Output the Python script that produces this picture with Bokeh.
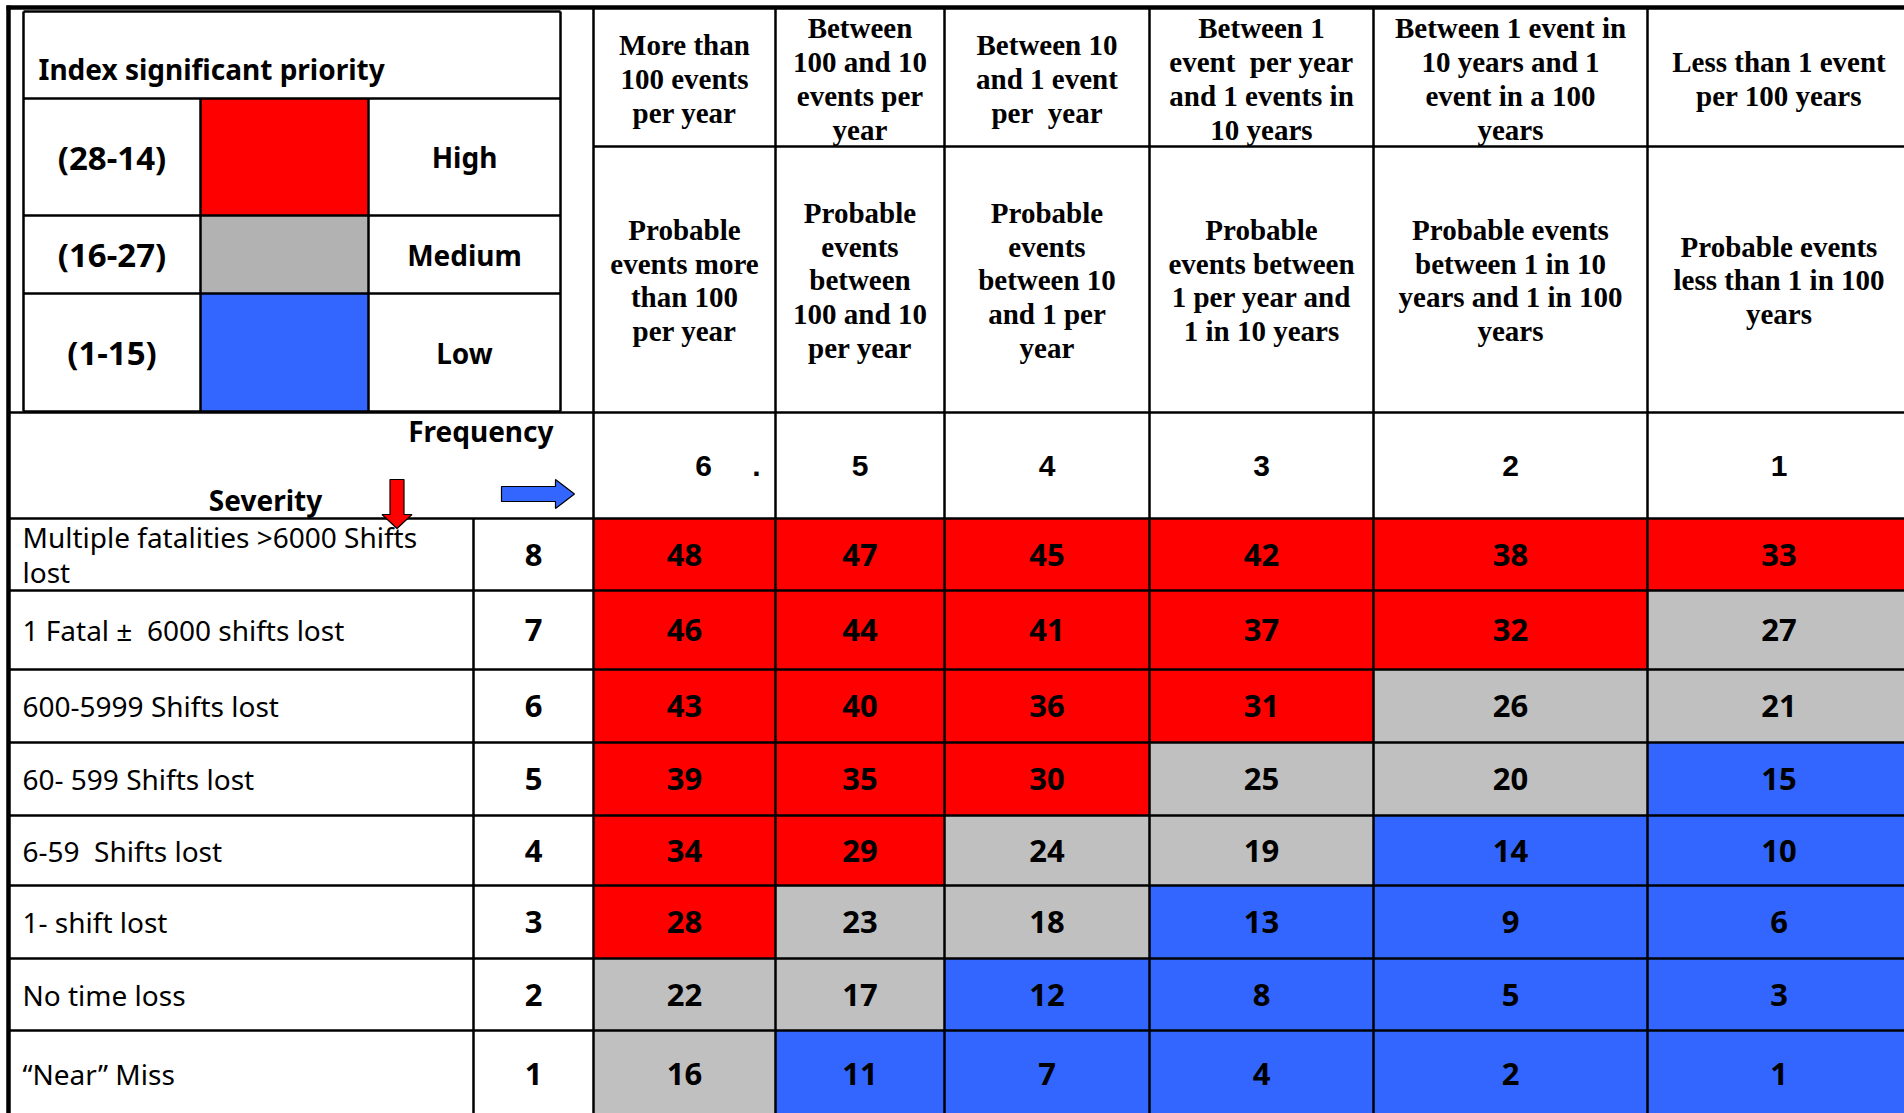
from bokeh.plotting import figure
from bokeh.models import Range1d, ColumnDataSource
from bokeh.core.properties import value
from bokeh.embed import file_html
from bokeh.resources import INLINE

# ---------------- DATA ----------------
freq_levels = ["6", "5", "4", "3", "2", "1"]
freq_headers = [
    "More than\n100 events\nper year",
    "Between\n100 and 10\nevents per\nyear",
    "Between 10\nand 1 event\nper\u00a0 year",
    "Between 1\nevent\u00a0 per year\nand 1 events in\n10 years",
    "Between 1 event in\n10 years and 1\nevent in a 100\nyears",
    "Less than 1 event\nper 100 years",
]
freq_desc = [
    "Probable\nevents more\nthan 100\nper year",
    "Probable\nevents\nbetween\n100 and 10\nper year",
    "Probable\nevents\nbetween 10\nand 1 per\nyear",
    "Probable\nevents between\n1 per year and\n1 in 10 years",
    "Probable events\nbetween 1 in 10\nyears and 1 in 100\nyears",
    "Probable events\nless than 1 in 100\nyears",
]
severity_levels = ["8", "7", "6", "5", "4", "3", "2", "1"]
severity_labels = [
    "Multiple fatalities >6000 Shifts\nlost",
    "1 Fatal \u00b1\u00a0 6000 shifts lost",
    "600-5999 Shifts lost",
    "60- 599 Shifts lost",
    "6-59\u00a0 Shifts lost",
    "1- shift lost",
    "No time loss",
    "\u201cNear\u201d Miss",
]
risk_sev8 = [48, 47, 45, 42, 38, 33]
risk_sev7 = [46, 44, 41, 37, 32, 27]
risk_sev6 = [43, 40, 36, 31, 26, 21]
risk_sev5 = [39, 35, 30, 25, 20, 15]
risk_sev4 = [34, 29, 24, 19, 14, 10]
risk_sev3 = [28, 23, 18, 13, 9, 6]
risk_sev2 = [22, 17, 12, 8, 5, 3]
risk_sev1 = [16, 11, 7, 4, 2, 1]
priority_ranges = ["(28-14)", "(16-27)", "(1-15)"]
priority_names = ["High", "Medium", "Low"]
legend_title = "Index significant priority"

# ---------------- LAYOUT / STYLE ----------------
W, H = 1904, 1113
COL_EDGES = [593, 775, 944, 1149, 1373, 1647, 1910]
ROW_EDGES = [518, 590, 669, 742, 815, 885, 958, 1030, 1116]
HEAD_EDGES = [7, 146, 412, 518]
LEFT = 8
SEV_NUM_X = 473
LEG_X = [23, 200, 368, 560]
LEG_Y = [11, 98, 215, 293, 411]
RED, GREY, BLUE = "#FF0000", "#C0C0C0", "#3366FF"
LEG_COLORS = ["#FF0000", "#B2B2B2", "#3366FF"]
SANS = value("Noto Sans")
SERIF = value("Liberation Serif")
ARIAL = value("Liberation Sans")


def risk_color(v):
    if v >= 28:
        return RED
    if v >= 16:
        return GREY
    return BLUE


p = figure(width=W, height=H, output_backend="svg", toolbar_location=None,
           x_range=Range1d(0, W), y_range=Range1d(H, 0),
           x_axis_location=None, y_axis_location=None, min_border=0)
p.grid.visible = False
p.outline_line_color = None
p.background_fill_color = "white"
p.border_fill_color = "white"

# ---------------- risk cells ----------------
rows = [risk_sev8, risk_sev7, risk_sev6, risk_sev5, risk_sev4, risk_sev3, risk_sev2, risk_sev1]
cl, cr, ct, cb, cc, cx, cy, ctxt = [], [], [], [], [], [], [], []
for r, row in enumerate(rows):
    for c, v in enumerate(row):
        cl.append(COL_EDGES[c]); cr.append(COL_EDGES[c + 1])
        ct.append(ROW_EDGES[r]); cb.append(ROW_EDGES[r + 1])
        cc.append(risk_color(v))
        cx.append((COL_EDGES[c] + COL_EDGES[c + 1]) / 2)
        cy.append((ROW_EDGES[r] + ROW_EDGES[r + 1]) / 2)
        ctxt.append(str(v))
cells = ColumnDataSource(dict(left=cl, right=cr, top=ct, bottom=cb, color=cc, x=cx, y=cy, text=ctxt))
p.quad(left="left", right="right", top="top", bottom="bottom", fill_color="color",
       line_color=None, source=cells)
p.text(x="x", y="y", text="text", source=cells, text_font=SANS, text_font_style="bold",
       text_font_size="31px", text_align="center", text_baseline="middle", text_color="black")

# ---------------- legend swatches ----------------
lg = ColumnDataSource(dict(
    left=[LEG_X[1]] * 3, right=[LEG_X[2]] * 3,
    top=LEG_Y[1:4], bottom=LEG_Y[2:5], color=LEG_COLORS,
    yc=[(LEG_Y[i] + LEG_Y[i + 1]) / 2 for i in range(1, 4)],
    xr=[(LEG_X[0] + LEG_X[1]) / 2] * 3, xn=[(LEG_X[2] + LEG_X[3]) / 2] * 3,
    rng=priority_ranges, name=priority_names))
p.quad(left="left", right="right", top="top", bottom="bottom", fill_color="color",
       line_color=None, source=lg)
p.text(x="xr", y="yc", text="rng", source=lg, text_font=SANS, text_font_style="bold",
       text_font_size="33px", text_align="center", text_baseline="middle")
p.text(x="xn", y="yc", text="name", source=lg, text_font=SANS, text_font_style="bold",
       text_font_size="28px", text_align="center", text_baseline="middle")
p.text(x=[LEG_X[0] + 15], y=[(LEG_Y[0] + LEG_Y[1]) / 2 + 14], text=[legend_title],
       text_font=SANS, text_font_style="bold", text_font_size="28px",
       text_align="left", text_baseline="middle")

# ---------------- grid lines ----------------
x0, y0, x1, y1 = [], [], [], []
for ye in ROW_EDGES[:-1] + [HEAD_EDGES[2]]:
    x0.append(LEFT); x1.append(W + 20); y0.append(ye); y1.append(ye)
x0.append(COL_EDGES[0]); x1.append(W + 20); y0.append(HEAD_EDGES[1]); y1.append(HEAD_EDGES[1])
for xe in COL_EDGES:
    x0.append(xe); x1.append(xe); y0.append(HEAD_EDGES[0]); y1.append(H + 20)
x0.append(SEV_NUM_X); x1.append(SEV_NUM_X); y0.append(ROW_EDGES[0]); y1.append(H + 20)
# legend box
for ye in LEG_Y:
    x0.append(LEG_X[0]); x1.append(LEG_X[3]); y0.append(ye); y1.append(ye)
for xe in (LEG_X[0], LEG_X[3]):
    x0.append(xe); x1.append(xe); y0.append(LEG_Y[0]); y1.append(LEG_Y[-1])
for xe in (LEG_X[1], LEG_X[2]):
    x0.append(xe); x1.append(xe); y0.append(LEG_Y[1]); y1.append(LEG_Y[-1])
p.segment(x0=x0, y0=y0, x1=x1, y1=y1, line_color="black", line_width=2.5)
# outer border
p.segment(x0=[LEFT - 2, LEFT], y0=[HEAD_EDGES[0], HEAD_EDGES[0] - 2],
          x1=[W + 20, LEFT], y1=[HEAD_EDGES[0], H + 20], line_color="black", line_width=4.5)

# ---------------- headers ----------------
hx = [(COL_EDGES[i] + COL_EDGES[i + 1]) / 2 for i in range(6)]
p.text(x=hx, y=[(HEAD_EDGES[0] + HEAD_EDGES[1]) / 2 + 2] * 6, text=freq_headers,
       text_font=SERIF, text_font_style="bold", text_font_size="29px",
       text_align="center", text_baseline="middle", text_line_height=1.06)
p.text(x=hx, y=[(HEAD_EDGES[1] + HEAD_EDGES[2]) / 2 + 1] * 6, text=freq_desc,
       text_font=SERIF, text_font_style="bold", text_font_size="29px",
       text_align="center", text_baseline="middle", text_line_height=1.06)
fx_off = [19, 0, 0, 0, 0, 0]
p.text(x=hx, y=[(HEAD_EDGES[2] + HEAD_EDGES[3]) / 2] * 6, text=freq_levels, x_offset=fx_off,
       text_font=ARIAL, text_font_style="bold", text_font_size="30px",
       text_align="center", text_baseline="middle")
p.text(x=[COL_EDGES[1] - 19], y=[(HEAD_EDGES[2] + HEAD_EDGES[3]) / 2], text=["."],
       text_font=ARIAL, text_font_style="bold", text_font_size="30px",
       text_align="center", text_baseline="middle")

# ---------------- severity column ----------------
ry = [(ROW_EDGES[i] + ROW_EDGES[i + 1]) / 2 for i in range(8)]
p.text(x=[LEFT + 14] * 8, y=ry, text=severity_labels, text_font=SANS,
       text_font_size="28px", text_align="left", text_baseline="middle",
       text_line_height=0.92)
p.text(x=[(SEV_NUM_X + COL_EDGES[0]) / 2] * 8, y=ry, text=severity_levels, text_font=SANS,
       text_font_style="bold", text_font_size="31px", text_align="center",
       text_baseline="middle")

# axis titles
p.text(x=[553], y=[430], text=["Frequency"], text_font=SANS, text_font_style="bold",
       text_font_size="28px", text_align="right", text_baseline="middle")
p.text(x=[265], y=[499], text=["Severity"], text_font=SANS, text_font_style="bold",
       text_font_size="28px", text_align="center", text_baseline="middle")

# arrows
ax, atop, ahead, atip, sw, hw = 396.5, 479, 514, 528, 7, 15
red_x = [ax - sw, ax + sw, ax + sw, ax + hw, ax, ax - hw, ax - sw]
red_y = [atop, atop, ahead, ahead, atip, ahead, ahead]
by, bl, bh, btip, sh, hh = 493.5, 501, 555, 574, 7.5, 14.5
blue_x = [bl, bh, bh, btip, bh, bh, bl]
blue_y = [by - sh, by - sh, by - hh, by, by + hh, by + sh, by + sh]
p.patches(xs=[red_x, blue_x], ys=[red_y, blue_y], fill_color=[RED, BLUE],
          line_color="black", line_width=1.2)

open("out.html", "w").write(file_html(p, INLINE))
